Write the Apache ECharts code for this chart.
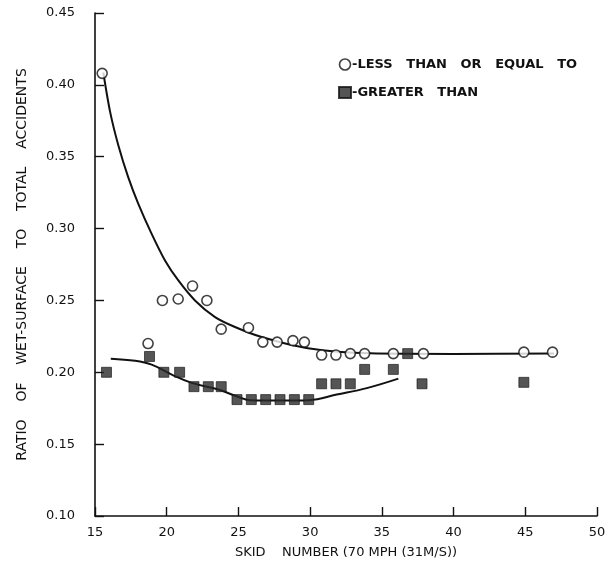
<!DOCTYPE html>
<html>
<head>
<meta charset="utf-8">
<script src="https://cdn.jsdelivr.net/npm/echarts@6/dist/echarts.min.js"></script>
<style>
html,body{margin:0;padding:0;background:#fff;}
#chart{width:609px;height:577px;}
</style>
</head>
<body>
<div id="chart"></div>
<script>
// Measured points: "less than or equal to" (open circles)
var lessX = [15.5, 18.7, 19.7, 20.8, 21.8, 22.8, 23.8, 25.7, 26.7, 27.7, 28.8, 29.6, 30.8, 31.8, 32.8, 33.8, 35.8, 37.9, 44.9, 46.9];
var lessY = [0.408, 0.220, 0.250, 0.251, 0.260, 0.250, 0.230, 0.231, 0.221, 0.221, 0.222, 0.221, 0.212, 0.212, 0.213, 0.213, 0.213, 0.213, 0.214, 0.214];
// Measured points: "greater than" (filled squares)
var greaterX = [15.8, 18.8, 19.8, 20.9, 21.9, 22.9, 23.8, 24.9, 25.9, 26.9, 27.9, 28.9, 29.9, 30.8, 31.8, 32.8, 33.8, 35.8, 36.8, 37.8, 44.9];
var greaterY = [0.200, 0.211, 0.200, 0.200, 0.190, 0.190, 0.190, 0.181, 0.181, 0.181, 0.181, 0.181, 0.181, 0.192, 0.192, 0.192, 0.202, 0.202, 0.213, 0.192, 0.193];
// Fitted curves
var lessCurveX = [15.58, 16.05, 16.62, 17.32, 18.02, 18.95, 19.88, 20.81, 21.97, 23.37, 24.76, 26.62, 29.85, 34.18, 40.0, 47.0];
var lessCurveY = [0.4086, 0.3814, 0.3582, 0.3356, 0.3172, 0.2963, 0.2778, 0.2639, 0.2500, 0.2384, 0.2315, 0.2245, 0.2167, 0.2132, 0.2128, 0.2130];
var greaterCurveX = [16.1, 17.8, 18.95, 20.35, 21.74, 23.6, 24.88, 25.8, 27.9, 29.94, 31.85, 33.95, 36.15];
var greaterCurveY = [0.2095, 0.208, 0.2053, 0.1984, 0.1926, 0.188, 0.1833, 0.1806, 0.1803, 0.1806, 0.1845, 0.189, 0.1956];
// Axis ticks
var xTicks = [15, 20, 25, 30, 35, 40, 45, 50];
var yTicks = [0.10, 0.15, 0.20, 0.25, 0.30, 0.35, 0.40, 0.45];

function zip(a, b) { return a.map(function (v, i) { return [v, b[i]]; }); }

var FONT = 'DejaVu Sans';
var LESS_NAME = '-LESS   THAN   OR   EQUAL   TO';
var GREATER_NAME = '-GREATER   THAN';
var chart = echarts.init(document.getElementById('chart'), null, {renderer: 'canvas'});
chart.setOption({
  backgroundColor: '#ffffff',
  animation: false,
  grid: {left: 95, right: 12, top: 13, bottom: 61, containLabel: false},
  legend: {
    left: 333, top: 53, orient: 'vertical', itemGap: 15,
    itemWidth: 12, itemHeight: 11, selectedMode: false,
    textStyle: {fontFamily: FONT, fontSize: 13, fontWeight: 'bold', color: '#111', padding: [0, 0, 0, -4]},
    data: [
      {name: LESS_NAME, icon: 'circle', itemStyle: {color: '#fff', borderColor: '#111', borderWidth: 1.6}},
      {name: GREATER_NAME, icon: 'rect', itemStyle: {color: '#2b2b2b'}}
    ]
  },
  xAxis: {
    type: 'value', min: 15, max: 50, interval: 5,
    name: 'SKID    NUMBER (70 MPH (31M/S))', nameLocation: 'middle', nameGap: 30,
    nameTextStyle: {fontFamily: FONT, fontSize: 13, color: '#111'},
    axisLine: {show: true, lineStyle: {color: '#111', width: 1.6}},
    axisTick: {show: true, inside: true, length: 9, lineStyle: {color: '#111', width: 1.4}},
    axisLabel: {fontFamily: FONT, fontSize: 13, color: '#111', margin: 10,
      formatter: function (v) { return xTicks.indexOf(v) >= 0 ? String(v) : ''; }},
    splitLine: {show: false}
  },
  yAxis: {
    type: 'value', min: 0.10, max: 0.45, interval: 0.05,
    name: 'RATIO    OF    WET-SURFACE    TO    TOTAL    ACCIDENTS', nameLocation: 'middle', nameGap: 66,
    nameRotate: 90,
    nameTextStyle: {fontFamily: FONT, fontSize: 14, color: '#111'},
    axisLine: {show: true, lineStyle: {color: '#111', width: 1.6}},
    axisTick: {show: true, inside: true, length: 9, lineStyle: {color: '#111', width: 1.4}},
    axisLabel: {fontFamily: FONT, fontSize: 13, color: '#111', margin: 20,
      formatter: function (v) {
        var s = v.toFixed(2);
        return yTicks.some(function (t) { return Math.abs(t - v) < 1e-6; }) ? s : '';
      }},
    splitLine: {show: false}
  },
  series: [
    {
      type: 'line', data: zip(lessCurveX, lessCurveY), smooth: 0.3, showSymbol: false,
      lineStyle: {color: '#111', width: 2}, silent: true, z: 2
    },
    {
      type: 'line', data: zip(greaterCurveX, greaterCurveY), smooth: 0.4, showSymbol: false,
      lineStyle: {color: '#111', width: 2}, silent: true, z: 2
    },
    {
      name: LESS_NAME,
      type: 'scatter', data: zip(lessX, lessY), symbol: 'circle', symbolSize: 10,
      itemStyle: {color: '#fff', borderColor: '#111', borderWidth: 1.6}, z: 3
    },
    {
      name: GREATER_NAME,
      type: 'scatter', data: zip(greaterX, greaterY), symbol: 'rect', symbolSize: 10,
      itemStyle: {color: '#2b2b2b', borderColor: '#111', borderWidth: 0.8}, z: 3
    }
  ]
});
</script>
</body>
</html>
